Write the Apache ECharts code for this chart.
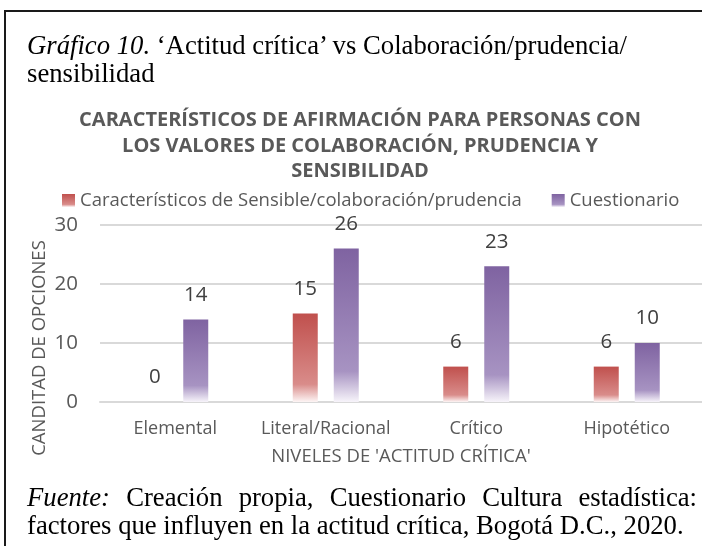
<!DOCTYPE html>
<html>
<head>
<meta charset="utf-8">
<script src="https://cdn.jsdelivr.net/npm/echarts@6/dist/echarts.min.js"></script>
<style>
  html, body { margin: 0; padding: 0; background: #fff; }
  #wrap { position: relative; width: 702px; height: 546px; overflow: hidden; }
  #chart { position: absolute; left: 0; top: 0; width: 702px; height: 546px; }
  #frame { position: absolute; left: 4px; top: 10px; width: 720px; height: 560px;
           border-left: 2px solid #1a1a1a; border-top: 2px solid #1a1a1a; }
  .serif { position: absolute; font-family: "Liberation Serif", "DejaVu Serif", serif;
           font-size: 26.7px; color: #000; line-height: 28px; }
  #caption { left: 27px; top: 31px; }
  #fuente { left: 27px; top: 483px; width: 670px; }
  #fuente .l1 { text-align: justify; text-align-last: justify; }
</style>
</head>
<body>
<div id="wrap">
  <div id="chart"></div>
  <div id="frame"></div>
  <div id="caption" class="serif"><i>Gráfico 10.</i> ‘Actitud crítica’ vs Colaboración/prudencia/<br>sensibilidad</div>
  <div id="fuente" class="serif">
    <div class="l1"><i>Fuente:</i> Creación propia, Cuestionario Cultura estadística:</div>
    <div>factores que influyen en la actitud crítica, Bogotá D.C., 2020.</div>
  </div>
</div>
<script>
// datos
const categorias = ['Elemental', 'Literal/Racional', 'Crítico', 'Hipotético'];
const sensible = [0, 15, 6, 6];
const cuestionario = [14, 26, 23, 10];
const yTicks = [0, 10, 20, 30];

const gris = '#595959';
const fuente = '"Open Sans", "Noto Sans", sans-serif';

function degradado(top, mid, bottom) {
    return {
        type: 'linear', x: 0, y: 0, x2: 0, y2: 1,
        colorStops: [
            { offset: 0, color: top },
            { offset: 0.8, color: mid },
            { offset: 1, color: bottom }
        ]
    };
}

const chart = echarts.init(document.getElementById('chart'), null, { renderer: 'canvas' });

const option = {
    backgroundColor: '#fff',
    animation: false,
    title: {
        text: 'CARACTERÍSTICOS DE AFIRMACIÓN PARA PERSONAS CON\nLOS VALORES DE COLABORACIÓN, PRUDENCIA Y\nSENSIBILIDAD',
        left: 355,
        top: 103,
        textAlign: 'center',
        textStyle: {
            fontFamily: fuente,
            fontWeight: 'bold',
            fontSize: 20,
            lineHeight: 25.5,
            color: gris
        }
    },
    legend: {
        top: 186,
        left: 57,
        itemWidth: 13,
        itemHeight: 13,
        itemGap: 30,
        icon: 'rect',
        textStyle: { fontFamily: fuente, fontSize: 18.5, color: gris },
        data: ['Característicos de Sensible/colaboración/prudencia', 'Cuestionario']
    },
    grid: { left: 100, right: -2, top: 225, bottom: 144, containLabel: false },
    xAxis: {
        type: 'category',
        data: categorias,
        axisTick: { show: false },
        axisLine: { lineStyle: { color: '#d9d9d9', width: 2 } },
        axisLabel: { interval: 0, fontFamily: fuente, fontSize: 18, color: gris, margin: 18 },
        name: "NIVELES DE 'ACTITUD CRÍTICA'",
        nameLocation: 'middle',
        nameGap: 45,
        nameTextStyle: { fontFamily: fuente, fontSize: 18.5, color: gris }
    },
    yAxis: {
        type: 'value',
        min: yTicks[0],
        max: yTicks[yTicks.length - 1],
        interval: 10,
        axisLine: { show: false },
        axisTick: { show: false },
        axisLabel: { fontFamily: fuente, fontSize: 20.5, color: gris, margin: 22 },
        splitLine: { lineStyle: { color: '#d9d9d9', width: 2 } }
    },
    graphic: [{
        type: 'text',
        x: 40,
        y: 348,
        rotation: Math.PI / 2,
        style: {
            text: 'CANDITAD DE OPCIONES',
            fontFamily: fuente,
            fontSize: 18.5,
            fill: gris,
            textAlign: 'center',
            textVerticalAlign: 'middle'
        }
    }],
    series: [{
        name: 'Característicos de Sensible/colaboración/prudencia',
        type: 'bar',
        data: sensible,
        barWidth: 25,
        barGap: '64%',
        itemStyle: { color: degradado('#c0504d', '#d98c8a', '#fdf5f5') },
        label: { show: true, position: 'top', distance: 14, fontFamily: fuente, fontSize: 20.5, color: '#404040' }
    }, {
        name: 'Cuestionario',
        type: 'bar',
        data: cuestionario,
        barWidth: 25,
        barGap: '64%',
        itemStyle: { color: degradado('#7f63a1', '#a793c2', '#f7f4fa') },
        label: { show: true, position: 'top', distance: 14, fontFamily: fuente, fontSize: 20.5, color: '#404040' }
    }]
};

chart.setOption(option);
</script>
</body>
</html>
